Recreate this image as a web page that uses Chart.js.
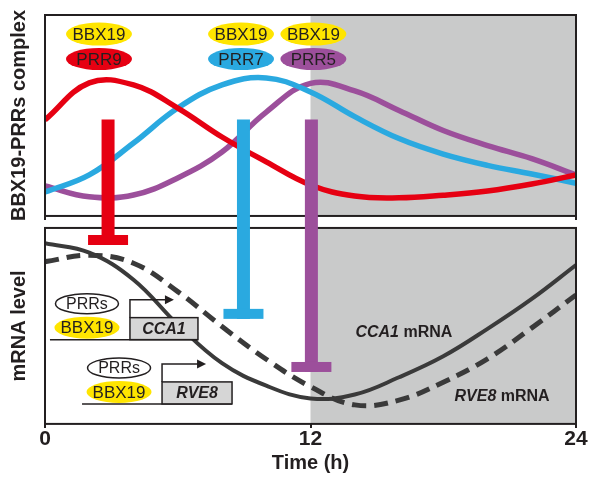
<!DOCTYPE html>
<html>
<head>
<meta charset="utf-8">
<script src="https://cdn.jsdelivr.net/npm/chart.js@4.4.1/dist/chart.umd.min.js"></script>
<style>
  html, body { margin: 0; padding: 0; background: #fff; }
  #wrap { width: 600px; height: 478px; }
</style>
</head>
<body>
<div id="wrap"><canvas id="chart" width="600" height="478"></canvas></div>
<script>
// time of day (h)
const hours = [0, 2, 4, 6, 8, 10, 12, 14, 16, 18, 20, 22, 24];
const xTicks = [0, 12, 24];

// BBX19-PRR complexes, top panel (arbitrary units 0-10)
const prr9 = [4.78, 6.62, 6.52, 5.37, 3.93, 2.69, 1.54, 0.99, 0.90, 1.03, 1.24, 1.59, 2.04];
const prr7 = [1.19, 2.04, 3.63, 5.37, 6.52, 6.87, 6.17, 4.94, 3.85, 3.08, 2.52, 2.09, 1.63];
const prr5 = [1.49, 0.95, 1.04, 1.89, 3.18, 5.17, 6.60, 6.22, 5.25, 4.25, 3.50, 2.85, 2.04];

// mRNA levels, bottom panel (arbitrary units 0-10)
const cca1 = [9.22, 8.74, 7.36, 5.07, 3.10, 1.95, 1.30, 1.50, 2.38, 3.45, 4.85, 6.38, 8.11];
const rve8 = [8.28, 8.61, 8.20, 6.75, 4.97, 3.30, 1.90, 0.97, 1.21, 2.13, 3.32, 4.90, 6.58];

// repression bars: hour, start value (top panel), end value (bottom panel)
const inhibitHour = [2.85, 8.97, 12.04];
const inhibitFrom = [4.8, 4.8, 4.8];
const inhibitTo = [9.13, 5.36, 2.65];

// dark period starts here
const nightStart = 12;

const INK = '#231f20';
const SHADE = '#c9caca';
const RED = '#e60012';
const BLUE = '#2aa9e0';
const PURPLE = '#9c4f9b';
const YELLOW = '#ffe500';
const FONT = '"Liberation Sans", Arial, sans-serif';

function ellipse(ctx, cx, cy, w, h, fill, stroke, text, font) {
    ctx.beginPath();
    ctx.ellipse(cx, cy, w / 2, h / 2, 0, 0, Math.PI * 2);
    ctx.fillStyle = fill;
    ctx.fill();
    if (stroke) {
        ctx.lineWidth = 1.5;
        ctx.strokeStyle = stroke;
        ctx.stroke();
    }
    ctx.fillStyle = INK;
    ctx.font = font;
    ctx.textAlign = 'center';
    ctx.textBaseline = 'middle';
    ctx.fillText(text, cx, cy + 1);
}

// small promoter sketch, anchored at the left end of the gene box on the baseline
function promoter(ctx, ax, ay, gene, boxW) {
    ctx.save();
    ctx.strokeStyle = INK;
    ctx.lineWidth = 1.5;
    ctx.beginPath();
    ctx.moveTo(ax - 80, ay);
    ctx.lineTo(ax + boxW, ay);
    ctx.stroke();
    ctx.fillStyle = '#d6d6d6';
    ctx.fillRect(ax, ay - 22, boxW, 22);
    ctx.strokeRect(ax, ay - 22, boxW, 22);
    ctx.fillStyle = INK;
    ctx.font = 'italic bold 16px ' + FONT;
    ctx.textAlign = 'center';
    ctx.textBaseline = 'middle';
    ctx.fillText(gene, ax + boxW / 2, ay - 10);
    // transcription start arrow
    ctx.beginPath();
    ctx.moveTo(ax, ay - 22);
    ctx.lineTo(ax, ay - 40);
    ctx.lineTo(ax + 36, ay - 40);
    ctx.stroke();
    ctx.beginPath();
    ctx.moveTo(ax + 44, ay - 40);
    ctx.lineTo(ax + 35, ay - 44.5);
    ctx.lineTo(ax + 35, ay - 35.5);
    ctx.closePath();
    ctx.fill();
    ellipse(ctx, ax - 43, ay - 36, 63, 20, '#fff', INK, 'PRRs', '16px ' + FONT);
    ellipse(ctx, ax - 43, ay - 12, 65, 22, YELLOW, null, 'BBX19', '17px ' + FONT);
    ctx.restore();
}

const panels = {
    id: 'panels',
    beforeDatasetsDraw(chart) {
        const ctx = chart.ctx;
        const x = chart.scales.x;
        const x0 = x.getPixelForValue(nightStart);
        const x1 = x.getPixelForValue(24);
        ctx.save();
        ctx.fillStyle = SHADE;
        for (const id of ['yTop', 'yBot']) {
            const s = chart.scales[id];
            ctx.fillRect(x0, s.top, x1 - x0, s.bottom - s.top);
        }
        ctx.restore();
    },
    afterDatasetsDraw(chart) {
        const ctx = chart.ctx;
        const x = chart.scales.x;
        const yTop = chart.scales.yTop;
        const yBot = chart.scales.yBot;
        ctx.save();

        // panel frames
        ctx.strokeStyle = INK;
        ctx.lineWidth = 2;
        for (const s of [yTop, yBot]) {
            ctx.strokeRect(x.left, s.top, x.right - x.left, s.bottom - s.top);
        }
        ctx.beginPath();
        for (const t of xTicks) {
            const px = x.getPixelForValue(t);
            ctx.moveTo(px, yTop.bottom);
            ctx.lineTo(px, yTop.bottom + 4);
        }
        ctx.stroke();

        // repression bars
        const barColors = [RED, BLUE, PURPLE];
        inhibitHour.forEach((h, i) => {
            const px = x.getPixelForValue(h);
            const top = yTop.getPixelForValue(inhibitFrom[i]);
            const end = yBot.getPixelForValue(inhibitTo[i]);
            ctx.fillStyle = barColors[i];
            ctx.fillRect(px - 6.5, top, 13, end - top);
            ctx.fillRect(px - 20, end - 10, 40, 10);
        });

        // complex labels
        const labelHours = [2.44, 8.86, 12.13];
        const names = ['PRR9', 'PRR7', 'PRR5'];
        labelHours.forEach((h, i) => {
            const px = x.getPixelForValue(h);
            ellipse(ctx, px, yTop.getPixelForValue(9.05), 66, 23, YELLOW, null, 'BBX19', '17px ' + FONT);
            ellipse(ctx, px, yTop.getPixelForValue(7.81), 66, 22, barColors[i], null, names[i], '17px ' + FONT);
        });

        // promoter sketches
        promoter(ctx, x.getPixelForValue(3.84), yBot.getPixelForValue(4.3), 'CCA1', 68);
        promoter(ctx, x.getPixelForValue(5.29), yBot.getPixelForValue(1.02), 'RVE8', 70);

        // curve labels
        const curveLabel = (gene, h, v) => {
            const cx = x.getPixelForValue(h);
            const cy = yBot.getPixelForValue(v);
            ctx.textBaseline = 'middle';
            ctx.textAlign = 'left';
            ctx.font = 'italic bold 16px ' + FONT;
            const w1 = ctx.measureText(gene).width;
            ctx.font = 'bold 16px ' + FONT;
            const w2 = ctx.measureText(' mRNA').width;
            const left = cx - (w1 + w2) / 2;
            ctx.fillStyle = INK;
            ctx.font = 'italic bold 16px ' + FONT;
            ctx.fillText(gene, left, cy);
            ctx.font = 'bold 16px ' + FONT;
            ctx.fillText(' mRNA', left + w1, cy);
        };
        curveLabel('CCA1', 16.22, 4.64);
        curveLabel('RVE8', 20.66, 1.38);
        ctx.restore();
    }
};

const ctx = document.getElementById('chart').getContext('2d');
new Chart(ctx, {
    type: 'line',
    data: {
        labels: hours,
        datasets: [
            { label: 'PRR9', data: prr9, yAxisID: 'yTop', borderColor: RED, borderWidth: 5.5 },
            { label: 'PRR7', data: prr7, yAxisID: 'yTop', borderColor: BLUE, borderWidth: 5.5 },
            { label: 'PRR5', data: prr5, yAxisID: 'yTop', borderColor: PURPLE, borderWidth: 5.5 },
            { label: 'CCA1 mRNA', data: cca1, yAxisID: 'yBot', borderColor: '#3a3a3a', borderWidth: 4 },
            { label: 'RVE8 mRNA', data: rve8, yAxisID: 'yBot', borderColor: '#3a3a3a', borderWidth: 5, borderDash: [14, 8] }
        ]
    },
    options: {
        responsive: false,
        animation: false,
        events: [],
        layout: { padding: { left: 0, right: 24, top: 15, bottom: 1 } },
        elements: {
            point: { radius: 0 },
            line: { tension: 0.4, fill: false }
        },
        plugins: {
            legend: { display: false },
            tooltip: { enabled: false }
        },
        scales: {
            x: {
                type: 'linear',
                min: 0,
                max: 24,
                afterBuildTicks: axis => { axis.ticks = xTicks.map(v => ({ value: v })); },
                ticks: { color: INK, padding: 0, maxRotation: 0, font: { family: FONT, size: 21, weight: 'bold', lineHeight: 1.1 } },
                grid: { drawOnChartArea: false, tickLength: 4, color: INK, lineWidth: 2 },
                border: { display: false },
                title: { display: true, text: 'Time (h)', color: INK, padding: { top: 0, bottom: 2 }, font: { family: FONT, size: 20, weight: 'bold' } }
            },
            yBot: {
                type: 'linear', position: 'left', stack: 'panels', stackWeight: 196,
                min: 0, max: 10,
                ticks: { display: false },
                grid: { display: false, drawTicks: false },
                border: { display: false },
                title: { display: true, text: 'mRNA level', color: INK, padding: { top: 7, bottom: 14 }, font: { family: FONT, size: 20, weight: 'bold' } }
            },
            yGap: {
                type: 'linear', position: 'left', stack: 'panels', stackWeight: 12,
                min: 0, max: 1,
                ticks: { display: false },
                grid: { display: false, drawTicks: false },
                border: { display: false }
            },
            yTop: {
                type: 'linear', position: 'left', stack: 'panels', stackWeight: 201,
                min: 0, max: 10,
                ticks: { display: false },
                grid: { display: false, drawTicks: false },
                border: { display: false },
                title: { display: true, text: 'BBX19-PRRs complex', color: INK, padding: { top: 7, bottom: 14 }, font: { family: FONT, size: 20, weight: 'bold' } }
            }
        }
    },
    plugins: [panels]
});
</script>
</body>
</html>
